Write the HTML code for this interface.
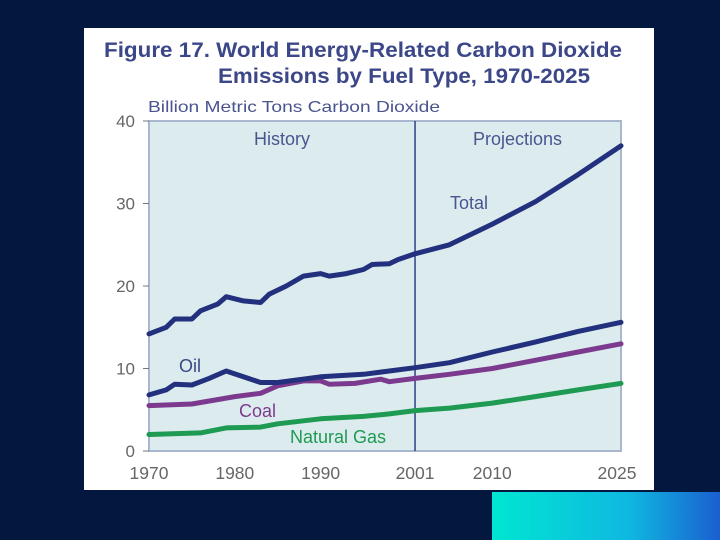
<!DOCTYPE html>
<html><head><meta charset="utf-8"><style>
html,body{margin:0;padding:0;width:720px;height:540px;overflow:hidden;background:#04173f;}
svg{display:block}
text{font-family:"Liberation Sans",sans-serif;}
</style></head><body>
<svg width="720" height="540">
<defs><linearGradient id="cg" x1="0" x2="1" y1="0" y2="0"><stop offset="0" stop-color="#00e6d2"/><stop offset="0.6" stop-color="#0fb8e0"/><stop offset="1" stop-color="#1a5fd0"/></linearGradient></defs>
<rect x="0" y="0" width="720" height="540" fill="#04173f"/>
<rect x="492" y="492" width="228" height="48" fill="url(#cg)"/>
<rect x="84" y="28" width="570" height="462" fill="#ffffff"/>
<text x="104" y="57" font-size="21" font-weight="bold" fill="#3b4788" textLength="518" lengthAdjust="spacingAndGlyphs">Figure 17.  World Energy-Related Carbon Dioxide</text>
<text x="218" y="83" font-size="21" font-weight="bold" fill="#3b4788" textLength="372" lengthAdjust="spacingAndGlyphs">Emissions by Fuel Type, 1970-2025</text>
<text x="148" y="112" font-size="16" fill="#4a5590" textLength="292" lengthAdjust="spacingAndGlyphs">Billion Metric Tons Carbon Dioxide</text>
<g id="chart"></g>
</svg>
<script>
const years_total=[1970,1972,1973,1975,1976,1978,1979,1981,1983,1984,1986,1988,1990,1991,1993,1995,1996,1998,1999,2001,2005,2010,2015,2020,2025];
const total=[14.2,15,16,16,17,17.8,18.7,18.2,18,19,20,21.2,21.5,21.2,21.5,22,22.6,22.7,23.2,23.9,25,27.5,30.2,33.5,37];
const years_oil=[1970,1972,1973,1975,1977,1979,1981,1983,1985,1990,1995,2001,2005,2010,2015,2020,2025];
const oil=[6.8,7.4,8.1,8.0,8.8,9.7,9.0,8.3,8.3,9.0,9.3,10.1,10.7,12.0,13.2,14.5,15.6];
const years_coal=[1970,1975,1980,1983,1985,1988,1990,1991,1994,1997,1998,2001,2005,2010,2015,2020,2025];
const coal=[5.5,5.7,6.6,7.0,7.9,8.5,8.5,8.1,8.2,8.7,8.4,8.8,9.3,10.0,11.0,12.0,13.0];
const years_gas=[1970,1976,1979,1983,1985,1990,1995,1998,2001,2005,2010,2015,2020,2025];
const gas=[2.0,2.2,2.8,2.9,3.3,3.9,4.2,4.5,4.9,5.2,5.8,6.6,7.4,8.2];
const yTicks=[0,10,20,30,40];
const xTicks=[1970,1980,1990,2001,2010,2025];
const NS="http://www.w3.org/2000/svg";
const L=149,R=621,T=121,B=451;
const x=v=>L+(v-1970)/55*(R-L);
const y=v=>B-v/40*(B-T);
const g=document.getElementById('chart');
function mk(t,a,txt){const e=document.createElementNS(NS,t);for(const k in a)e.setAttribute(k,a[k]);if(txt!=null)e.textContent=txt;g.appendChild(e);return e;}
let e=mk('rect',{x:L,y:T,width:R-L,height:B-T,fill:'#dcecee',stroke:'#a9b6cf','stroke-width':2});


e=mk('line',{x1:x(2001),x2:x(2001),y1:T,y2:B,stroke:'#2e3f86','stroke-width':1.5});


yTicks.forEach(t=>{
 e=mk('line',{x1:L-6,x2:L,y1:y(t),y2:y(t),stroke:'#777','stroke-width':1});
 
 
 e=mk('text',{x:L-14,y:y(t)+6,'font-size':17,fill:'#666','text-anchor':'end'},t);
 
 
});
xTicks.forEach(t=>{
 e=mk('text',{x:x(t)+(t===2025?-4:0),y:479,'font-size':17.5,fill:'#666','text-anchor':'middle'},t);
 
 
});
function series(xs,vs,col,name){
 const d=xs.map((v,i)=>(i?'L':'M')+x(v).toFixed(1)+','+y(vs[i]).toFixed(1)).join(' ');
 const p=mk('path',{d:d,fill:'none',stroke:col,'stroke-width':5,'stroke-linejoin':'round','stroke-linecap':'round'});
 
 
}
series(years_gas,gas,'#1f9a52','natural-gas-line');
series(years_coal,coal,'#7c3a8e','coal-line');
series(years_oil,oil,'#22307e','oil-line');
series(years_total,total,'#22307e','total-line');
function lab(t,xx,yy,c,n){const q=mk('text',{x:xx,y:yy,'font-size':18,fill:c},t);}
lab('History',254,145,'#4a5590','history-label');
lab('Projections',473,145,'#4a5590','projections-label');
lab('Total',450,209,'#4a5590','total-label');
lab('Oil',179,372,'#3b4788','oil-label');
lab('Coal',239,417,'#7c3a8e','coal-label');
lab('Natural Gas',290,443,'#1f9a52','natural-gas-label');
</script>
</body></html>
